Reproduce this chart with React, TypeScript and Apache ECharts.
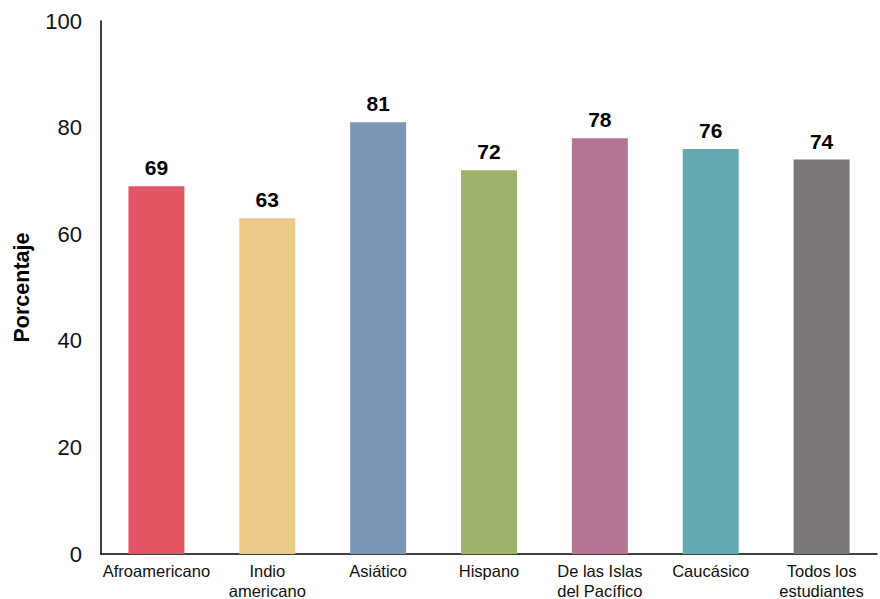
import React, { useEffect, useRef } from "react";
import * as echarts from "echarts";

const categories = [
  "Afroamericano",
  "Indio\namericano",
  "Asiático",
  "Hispano",
  "De las Islas\ndel Pacífico",
  "Caucásico",
  "Todos los\nestudiantes",
];
const values = [69, 63, 81, 72, 78, 76, 74];
const colors = ["#E25563", "#EBC986", "#7B97B5", "#9EB26C", "#B47592", "#63AAB3", "#7B7677"];
const yTicks = [0, 20, 40, 60, 80, 100];
const yAxisName = "Porcentaje";

export default function App() {
  const ref = useRef<HTMLDivElement>(null);
  useEffect(() => {
    if (!ref.current) return;
    const chart = echarts.init(ref.current, undefined, { renderer: "svg" });
    chart.setOption({
      animation: false,
      grid: { left: 101, right: 3, top: 21, bottom: 45, outerBoundsMode: "none", containLabel: false },
      xAxis: {
        type: "category",
        data: categories,
        axisLine: { lineStyle: { color: "#000", width: 1.5 } },
        axisTick: { show: false },
        axisLabel: {
          color: "#111",
          fontSize: 16.5,
          fontFamily: "Liberation Sans, Arial, sans-serif",
          margin: 7,
          lineHeight: 20,
          interval: 0,
        },
      },
      yAxis: {
        type: "value",
        min: yTicks[0],
        max: yTicks[yTicks.length - 1],
        interval: 20,
        name: yAxisName,
        nameLocation: "middle",
        nameRotate: 90,
        nameGap: 68,
        nameTextStyle: {
          color: "#000",
          fontSize: 21.5,
          fontWeight: "bold",
          fontFamily: "Liberation Sans, Arial, sans-serif",
        },
        axisLine: { show: true, lineStyle: { color: "#000", width: 1.5 } },
        axisTick: { show: false },
        splitLine: { show: false },
        axisLabel: {
          color: "#111",
          fontSize: 22,
          fontFamily: "Liberation Sans, Arial, sans-serif",
          margin: 19,
        },
      },
      series: [
        {
          type: "bar",
          data: values.map((v, i) => ({ value: v, itemStyle: { color: colors[i] } })),
          barWidth: "50.5%",
          label: {
            show: true,
            position: "top",
            distance: 8,
            color: "#000",
            fontSize: 21,
            fontWeight: "bold",
            fontFamily: "Liberation Sans, Arial, sans-serif",
          },
        },
      ],
    });
    return () => chart.dispose();
  }, []);
  return <div ref={ref} style={{ width: 880, height: 599, position: "absolute", left: 0, top: 0 }} />;
}
